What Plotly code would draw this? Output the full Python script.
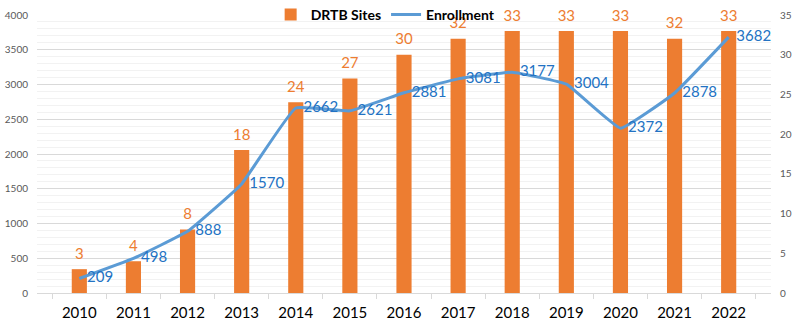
import plotly.graph_objects as go

years = ["2010", "2011", "2012", "2013", "2014", "2015", "2016",
         "2017", "2018", "2019", "2020", "2021", "2022"]
drtb_sites = [3, 4, 8, 18, 24, 27, 30, 32, 33, 33, 33, 32, 33]
enrollment = [209, 498, 888, 1570, 2662, 2621, 2881, 3081, 3177, 3004, 2372, 2878, 3682]

ORANGE = "#ED7D31"
BLUE = "#5B9BD5"
BLUE_TEXT = "#2272C3"
FONT = "Lato"

fig = go.Figure()

# Sites as bars on the right-hand scale (0-35)
fig.add_trace(go.Bar(
    x=years, y=drtb_sites, name="DRTB Sites",
    marker=dict(color=ORANGE, line=dict(width=0)),
    yaxis="y",
))

# Site counts written above each bar
fig.add_trace(go.Scatter(
    x=years, y=drtb_sites, mode="markers+text", showlegend=False,
    marker=dict(size=9, opacity=0),
    text=[str(v) for v in drtb_sites], textposition="top center",
    textfont=dict(color=ORANGE, size=15, family=FONT),
    cliponaxis=False, yaxis="y", hoverinfo="skip",
))

# Enrollment as a smoothed line on the left-hand scale (0-4000)
fig.add_trace(go.Scatter(
    x=years, y=enrollment, name="Enrollment",
    mode="lines+text", line=dict(color=BLUE, width=3, shape="spline", smoothing=0.3),
    text=["  " + str(v) for v in enrollment], textposition="middle right",
    textfont=dict(color=BLUE_TEXT, size=15, family=FONT),
    cliponaxis=False, yaxis="y2",
))

fig.update_layout(
    width=811, height=331,
    margin=dict(l=37, r=40, t=15, b=38, autoexpand=False),
    paper_bgcolor="white", plot_bgcolor="white",
    font=dict(family=FONT, color="#595959"),
    bargap=0.72,
    showlegend=True,
    legend=dict(
        orientation="h", x=0.475, xanchor="center", y=1.0, yanchor="middle",
        font=dict(size=14, color="#000000", family=FONT, weight="bold"),
        bgcolor="rgba(0,0,0,0)", tracegroupgap=0,
    ),
    xaxis=dict(
        type="category", showgrid=False, tickson="boundaries",
        ticks="outside", ticklen=5, tickcolor="#D9D9D9",
        showline=True, linecolor="#D9D9D9", linewidth=1,
        tickfont=dict(size=15, color="#000000", family=FONT),
        ticklabelstandoff=6,
    ),
    yaxis=dict(
        side="right", range=[0, 35], dtick=5, showgrid=False, zeroline=False,
        tickfont=dict(size=10, color="#595959", family=FONT),
        ticklabelstandoff=8,
    ),
    yaxis2=dict(
        overlaying="y", side="left", range=[0, 4000], dtick=500,
        showgrid=True, gridcolor="#D9D9D9", gridwidth=1, zeroline=False,
        minor=dict(dtick=100, showgrid=True, gridcolor="#F2F2F2", gridwidth=1),
        tickfont=dict(size=10, color="#595959", family=FONT),
        ticklabelstandoff=8,
    ),
)

fig.write_html("out.html")
